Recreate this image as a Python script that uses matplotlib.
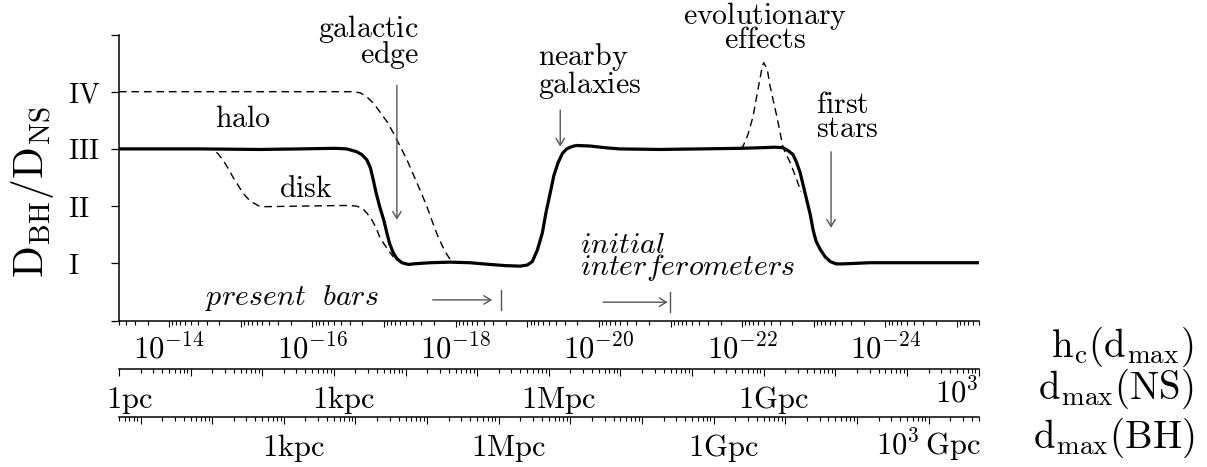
import numpy as np
import matplotlib
matplotlib.use("Agg")
import matplotlib.pyplot as plt
import matplotlib.ticker as mticker
from matplotlib.transforms import ScaledTranslation

plt.rcParams["mathtext.fontset"] = "cm"
plt.rcParams["font.family"] = ["DejaVu Serif"]

# curves: log10(h_c) along x, detectable-volume ratio level (I..IV = 1..4) along y
solid_logh = [-13.30, -14.43, -15.27, -15.83, -16.32, -16.48, -16.62, -16.69, -16.76, -16.81,
              -16.85, -16.89, -16.94, -17.00, -17.04, -17.08, -17.13, -17.18, -17.25, -17.34,
              -17.41, -17.64, -17.92, -18.20, -18.48, -18.69, -18.90, -19.00, -19.07, -19.14,
              -19.21, -19.26, -19.32, -19.37, -19.43, -19.49, -19.55, -19.62, -19.69, -19.88,
              -20.09, -20.29, -20.85, -21.41, -21.97, -22.25, -22.46, -22.57, -22.64, -22.71,
              -22.76, -22.81, -22.85, -22.90, -22.95, -22.99, -23.03, -23.09, -23.16, -23.23,
              -23.31, -23.41, -23.78, -24.62, -25.30]
solid_level = [3.00, 3.00, 2.99, 3.00, 3.01, 3.00, 2.95, 2.90, 2.81, 2.67,
               2.46, 2.23, 1.99, 1.74, 1.53, 1.34, 1.18, 1.08, 1.01, 0.98,
               0.99, 1.01, 1.02, 1.01, 0.98, 0.96, 0.95, 0.97, 1.03, 1.23,
               1.53, 1.88, 2.23, 2.53, 2.76, 2.92, 3.00, 3.04, 3.06, 3.05,
               3.02, 3.00, 2.99, 3.00, 3.01, 3.02, 3.03, 3.02, 2.97, 2.90,
               2.76, 2.58, 2.37, 2.11, 1.85, 1.58, 1.39, 1.24, 1.11, 1.03,
               0.99, 0.99, 1.01, 1.01, 1.01]

halo_logh = [-13.30, -15.13, -16.57, -16.67, -16.76, -16.86, -16.94, -17.04, -17.13, -17.22,
             -17.32, -17.41, -17.50, -17.60, -17.68, -17.75, -17.82, -17.88, -17.95]
halo_level = [4.00, 4.00, 4.00, 3.98, 3.91, 3.79, 3.65, 3.48, 3.28, 3.06,
              2.81, 2.55, 2.29, 1.99, 1.71, 1.48, 1.29, 1.15, 1.02]

disk_logh = [-14.50, -14.61, -14.68, -14.75, -14.82, -14.89, -14.96, -15.03, -15.10, -15.17,
             -15.26, -15.34, -15.83, -16.39, -16.53, -16.61, -16.69, -16.76, -16.83, -16.89,
             -16.94, -17.00, -17.06, -17.13]
disk_level = [3.00, 2.99, 2.92, 2.81, 2.67, 2.51, 2.37, 2.23, 2.13, 2.06,
              2.00, 1.99, 2.00, 2.01, 2.01, 2.00, 1.97, 1.88, 1.76, 1.62,
              1.46, 1.34, 1.23, 1.11]

evol_logh = [-21.97, -22.01, -22.08, -22.15, -22.22, -22.28, -22.30, -22.35, -22.39, -22.49,
             -22.57, -22.67, -22.75, -22.82]
evol_level = [3.01, 3.04, 3.25, 3.56, 4.04, 4.44, 4.51, 4.39, 4.09, 3.53,
              3.02, 2.76, 2.50, 2.25]

# detector sensitivity limits (log10 h_c)
limit_logh = [-18.63, -20.99]

level_ticks = [0, 1, 2, 3, 4, 5]
level_names = ["", "I", "II", "III", "IV", ""]

hc_range = (5e-14, 5e-26)
ns_range = (1.0, 1e12)    # pc
bh_range = (5.0, 5e12)    # pc

hc_label_exp = [-14, -16, -18, -20, -22, -24]
ns_label_pc = [1.0, 1e3, 1e6, 1e9, 1e12]
ns_label_txt = ["1pc", "1kpc", "1Mpc", "1Gpc", "10^{3}"]
bh_label_pc = [1e3, 1e6, 1e9, 1e12]
bh_label_txt = ["1kpc", "1Mpc", "1Gpc", "10^{3}\\,Gpc"]

W, H = 1207, 467
LEFT, RIGHT = 119, 978.7
TOP, BOTTOM = 34.5, 320.5


def fx(px):
    return px / W


def fy(py):
    return 1 - py / H


def rm(*lines):
    return "\n".join("$\\mathrm{" + s + "}$" for s in lines)


def it(*lines):
    return "\n".join("$" + s + "$" for s in lines)


def log_axis(ax, lo, hi, major_len, minor_len):
    ax.set_xscale("log")
    ax.set_xlim(lo, hi)
    ax.xaxis.set_major_locator(mticker.LogLocator(base=10, numticks=50))
    ax.xaxis.set_minor_locator(mticker.LogLocator(base=10, subs=np.arange(2, 10), numticks=50))
    ax.xaxis.set_major_formatter(mticker.NullFormatter())
    ax.xaxis.set_minor_formatter(mticker.NullFormatter())
    ax.tick_params(axis="x", which="major", direction="out", length=major_len, width=0.8)
    ax.tick_params(axis="x", which="minor", direction="out", length=minor_len, width=0.8)
    ax.spines["bottom"].set_linewidth(1.1)


def axis_label(ax, x, txt, dx_px=0, ha="center", dy_px=-39, size=22):
    tr = ax.get_xaxis_transform() + ScaledTranslation(dx_px / 100, dy_px / 100,
                                                      ax.figure.dpi_scale_trans)
    ax.text(x, 0, rm(txt), transform=tr, ha=ha, va="baseline", fontsize=size, clip_on=False)


fig = plt.figure(figsize=(W / 100, H / 100), dpi=100)
ax = fig.add_axes([fx(LEFT), fy(BOTTOM), fx(RIGHT - LEFT), (BOTTOM - TOP) / H])
ax.patch.set_alpha(0)

# curves
dash = (5.5, 3.5)
ax.plot(10 ** np.array(halo_logh), halo_level, color="black", lw=1.0, dashes=dash)
ax.plot(10 ** np.array(disk_logh), disk_level, color="black", lw=1.0, dashes=dash)
ax.plot(10 ** np.array(evol_logh), evol_level, color="black", lw=1.0, dashes=dash)
ax.plot(10 ** np.array(solid_logh), solid_level, color="black", lw=2.3,
        solid_capstyle="round", solid_joinstyle="round")

# axes
log_axis(ax, *hc_range, 4.5, 2.9)
ax.set_ylim(0, 5)
for side in ("top", "right"):
    ax.spines[side].set_visible(False)
ax.spines["left"].set_linewidth(1.1)
ax.set_yticks(level_ticks, [rm(n) if n else "" for n in level_names])
ax.tick_params(axis="y", direction="out", length=5.8, width=0.9, pad=31, labelsize=20)
for lab in ax.get_yticklabels():
    lab.set_horizontalalignment("left")
for e in hc_label_exp:
    axis_label(ax, 10.0 ** e, "10^{%d}" % e)

ax_ns = fig.add_axes([fx(LEFT), fy(369), fx(RIGHT - LEFT), 1e-4])
ax_bh = fig.add_axes([fx(LEFT), fy(417), fx(RIGHT - LEFT), 1e-4])
for a, rng in ((ax_ns, ns_range), (ax_bh, bh_range)):
    a.patch.set_alpha(0)
    for side in ("top", "right", "left"):
        a.spines[side].set_visible(False)
    a.set_yticks([])
    log_axis(a, *rng, 5.0, 2.9)

for x, t in zip(ns_label_pc, ns_label_txt):
    if t.startswith("10"):
        axis_label(ax_ns, x, t, ha="right", dy_px=-34)
    else:
        axis_label(ax_ns, x, t, dx_px=10)
for x, t in zip(bh_label_pc, bh_label_txt):
    axis_label(ax_bh, x, t, dx_px=0 if t.startswith("10") else 10)

# right-hand axis names and y label
NAME = 28
fig.text(fx(1194), fy(357), r"$\mathrm{h}_{\mathrm{c}}(\mathrm{d}_{\mathrm{max}})$",
         ha="right", va="baseline", fontsize=NAME)
fig.text(fx(1194), fy(399), r"$\mathrm{d}_{\mathrm{max}}(\mathrm{NS})$",
         ha="right", va="baseline", fontsize=NAME)
fig.text(fx(1194), fy(448), r"$\mathrm{d}_{\mathrm{max}}(\mathrm{BH})$",
         ha="right", va="baseline", fontsize=NAME)
fig.text(fx(33), fy(192), r"$\mathrm{D}_{\mathrm{BH}}/\mathrm{D}_{\mathrm{NS}}$",
         rotation=90, ha="center", va="center", fontsize=30)

# annotations (y is the baseline of the last line)
TXT = 21.5
arrow = dict(arrowstyle="->,head_length=0.5,head_width=0.3", color="#555555", lw=1.0,
             shrinkA=0, shrinkB=0)

ax.text(10 ** -17.49, 4.51, rm("galactic", "edge"), ha="right", va="baseline",
        multialignment="right", fontsize=TXT, linespacing=0.72)
ax.annotate("", xy=(10 ** -17.18, 1.76), xytext=(10 ** -17.18, 4.11), arrowprops=arrow)

ax.text(10 ** -19.15, 3.98, rm("nearby", "galaxies"), ha="left", va="baseline",
        fontsize=TXT, linespacing=0.82)
ax.annotate("", xy=(10 ** -19.46, 3.04), xytext=(10 ** -19.46, 3.68), arrowprops=arrow)

ax.text(10 ** -22.32, 4.76, rm("evolutionary", "effects"), ha="center", va="baseline",
        multialignment="center", fontsize=TXT, linespacing=0.76)

ax.text(10 ** -23.03, 3.20, rm("first", "stars"), ha="left", va="baseline",
        fontsize=TXT, linespacing=0.85)
ax.annotate("", xy=(10 ** -23.24, 1.62), xytext=(10 ** -23.24, 2.95), arrowprops=arrow)

ax.text(10 ** -15.03, 3.39, rm("halo"), ha="center", va="baseline", fontsize=TXT)
ax.text(10 ** -15.91, 2.16, rm("disk"), ha="center", va="baseline", fontsize=TXT)

ax.text(10 ** -14.50, 0.27, it("present\\ \\ bars"), ha="left", va="baseline", fontsize=TXT)
ax.annotate("", xy=(10 ** (limit_logh[0] + 0.12), 0.36), xytext=(10 ** -17.68, 0.36),
            arrowprops=arrow)
ax.text(10 ** -19.74, 0.80, it("initial", "interferometers"), ha="left", va="baseline",
        fontsize=TXT, linespacing=0.68)
ax.annotate("", xy=(10 ** (limit_logh[1] + 0.03), 0.32), xytext=(10 ** -20.06, 0.32),
            arrowprops=arrow)
for lh, (y0, y1) in zip(limit_logh, [(0.18, 0.53), (0.15, 0.50)]):
    ax.plot([10 ** lh, 10 ** lh], [y0, y1], color="#555555", lw=1.0)

fig.savefig("out.png", dpi=100)
